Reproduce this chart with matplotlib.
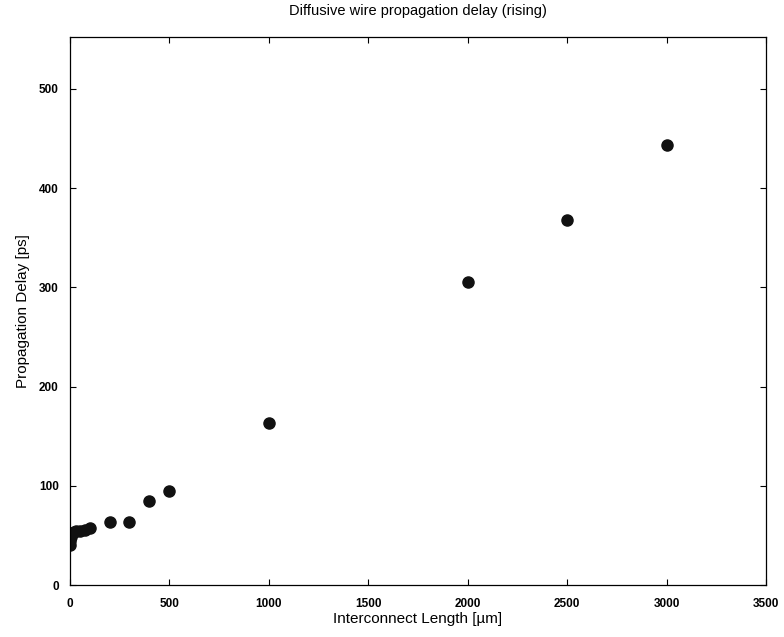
import matplotlib
matplotlib.use('Agg')
import matplotlib.pyplot as plt

# interconnect length (um) and rising propagation delay (ps)
length_um = [1, 2, 5, 10, 20, 30, 50, 75, 100, 200, 300, 400, 500, 1000, 2000, 2500, 3000]
delay_ps = [40, 44, 48, 52, 53, 54, 54, 55, 57, 63, 63, 85, 95, 163, 305, 368, 443]

x_ticks = [0, 500, 1000, 1500, 2000, 2500, 3000, 3500]
y_ticks = [0, 100, 200, 300, 400, 500]

plt.rcParams['font.family'] = ['Liberation Sans', 'DejaVu Sans']

fig = plt.figure(figsize=(7.84, 6.37), dpi=100)
ax = fig.add_axes([0.089, 0.0816, 0.888, 0.860])

ax.plot(length_um, delay_ps, 'o', color='#111111', markersize=8, linestyle='none')

ax.set_xlim(0, 3500)
ax.set_ylim(0, 552)
ax.set_xticks(x_ticks)
ax.set_yticks(y_ticks)
ax.tick_params(direction='in', top=True, right=True, length=4, labelsize=8.5)
ax.tick_params(axis='x', pad=9)
ax.tick_params(axis='y', pad=8)
for lab in ax.get_xticklabels() + ax.get_yticklabels():
    lab.set_fontweight('bold')
for s in ax.spines.values():
    s.set_linewidth(0.9)

ax.set_title('Diffusive wire propagation delay (rising)', fontsize=10.5, pad=16)
ax.set_xlabel('Interconnect Length [\u00b5m]', fontsize=11, labelpad=2)
ax.set_ylabel('Propagation Delay [ps]', fontsize=11, labelpad=6)

fig.savefig('out.png', dpi=100)
